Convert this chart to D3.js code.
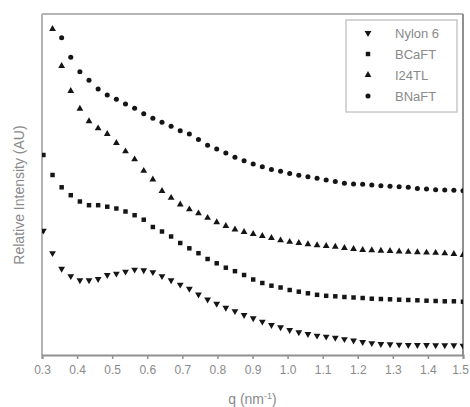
<!DOCTYPE html>
<html><head><meta charset="utf-8">
<script src="https://cdn.jsdelivr.net/npm/d3@7"></script>
<style>body{margin:0;background:#fff}svg{display:block}</style>
</head><body>
<svg id="chart" width="470" height="407"></svg>
<script>
// q values (nm^-1) of the measured points
const q = [0.304,0.330,0.356,0.382,0.408,0.434,0.460,0.486,0.512,0.538,0.564,0.590,0.616,0.642,0.668,0.694,0.720,0.746,0.772,0.798,0.824,0.850,0.876,0.902,0.928,0.954,0.980,1.006,1.032,1.058,1.084,1.110,1.136,1.162,1.188,1.214,1.240,1.266,1.292,1.318,1.344,1.370,1.396,1.422,1.448,1.474,1.500];

// relative intensity (arbitrary units, offset curves)
const nylon6 = [124.3,101.8,86.2,78.8,74.7,74.7,76,80,81.3,83.3,85.3,84.7,82.8,78.8,74.7,70.3,66.2,60.5,55.5,51.2,47.2,43.8,40,36.7,33.3,30,27.7,25,22.7,21,19.3,18.4,17.2,15.8,14.5,13,11.8,11,10.7,10.3,10,10,10,9.7,9.7,9.7,9.3];
const bcaft = [200,180,167.7,159.8,153.5,149.8,149.8,148.3,146.5,143.5,139.8,135.3,128,123.5,118.5,112,106.7,101.8,96,91.7,87.3,83.8,80,75.5,72,69.3,67.5,65,63.3,61.7,60.2,59.2,58.7,58,57.5,57,56.3,56,55.7,55.3,55,54.7,54.3,54,53.7,53.7,53.3];
const i24tl = [null,326,289,264,246.3,233.8,226.7,221,212,203.7,195.7,184.2,175.5,164,157.2,150.5,145.7,141.7,137.2,132.8,129,125.5,123,121,119,117,114.7,113.2,112,110.8,109.8,109,108.3,107,106,105,104.8,104.3,104,103.5,103.2,102.8,102.4,102.2,101.7,101,100];
const bnaft = [null,null,317.3,297.7,283.3,274.7,266,260,255.7,251,246.7,241.3,236.7,232.7,228.7,224.3,221,215.5,209.7,206,202,197.7,194.3,191,188.2,185.6,183.7,181.6,179.8,178.2,176.8,175,173.5,171.8,171,170.7,170,169.3,168.7,168.3,167.7,166.5,166,165.3,165,164.8,164.3];

const seriesNames = ["Nylon 6","BCaFT","I24TL","BNaFT"];
const xTickValues = [0.3,0.4,0.5,0.6,0.7,0.8,0.9,1.0,1.1,1.2,1.3,1.4,1.5];

const series = [
  {name: seriesNames[0], values: nylon6, symbol: d3.symbolTriangle, rot: 180},
  {name: seriesNames[1], values: bcaft, symbol: d3.symbolSquare, rot: 0},
  {name: seriesNames[2], values: i24tl, symbol: d3.symbolTriangle, rot: 0},
  {name: seriesNames[3], values: bnaft, symbol: d3.symbolCircle, rot: 0}
];

const svg = d3.select("#chart");
const L = 42, R = 463, T = 14, B = 355;
const x = d3.scaleLinear().domain([0.3, 1.5]).range([L, R]);
const y = d3.scaleLinear().domain([0, 341]).range([B, T]);

svg.append("defs").append("clipPath").attr("id","clip")
  .append("rect").attr("x", L).attr("y", T).attr("width", R - L).attr("height", B - T);

// frame
svg.append("line").attr("x1", L).attr("x2", R).attr("y1", T).attr("y2", T)
  .attr("stroke", "#b4b4b4").attr("stroke-width", 2);
svg.append("line").attr("x1", L).attr("x2", L).attr("y1", T).attr("y2", B)
  .attr("stroke", "#b4b4b4").attr("stroke-width", 2);
svg.append("line").attr("x1", R).attr("x2", R).attr("y1", T).attr("y2", B)
  .attr("stroke", "#909090").attr("stroke-width", 2);

// x axis
const xAxis = svg.append("g").attr("transform", `translate(0,${B})`)
  .call(d3.axisBottom(x).tickValues(xTickValues).tickFormat(d3.format(".1f")).tickSize(4).tickPadding(6));
xAxis.select(".domain").attr("stroke", "#909090").attr("stroke-width", 2);
xAxis.selectAll(".tick line").attr("stroke", "#909090").attr("stroke-width", 1.5);
xAxis.selectAll(".tick text").attr("fill", "#8a8a8a").style("font-family", "Liberation Sans, Arial, sans-serif").style("font-size", "12px");
xAxis.selectAll(".tick text").filter(d => d === 1.5).attr("dx", -3);

// axis titles
const xt = svg.append("text").attr("x", (L + R) / 2).attr("y", 404).attr("text-anchor", "middle")
  .attr("fill", "#8a8a8a").style("font-family", "Liberation Sans, Arial, sans-serif").style("font-size", "14px");
xt.append("tspan").text("q (nm");
xt.append("tspan").attr("dy", -5).style("font-size", "9px").text("-1");
xt.append("tspan").attr("dy", 5).text(")");

svg.append("text").attr("transform", "translate(24,195) rotate(-90)").attr("text-anchor", "middle")
  .attr("fill", "#8a8a8a").style("font-family", "Liberation Sans, Arial, sans-serif").style("font-size", "14px")
  .text("Relative Intensity (AU)");

// points
const plot = svg.append("g").attr("clip-path", "url(#clip)");
series.forEach(s => {
  const sym = d3.symbol().type(s.symbol).size(20);
  plot.append("g").selectAll("path")
    .data(q.map((qq, i) => ({q: qq, v: s.values[i]})).filter(d => d.v != null))
    .join("path")
    .attr("d", sym)
    .attr("transform", d => `translate(${x(d.q)},${y(d.v)}) rotate(${s.rot})`)
    .attr("fill", "#151515");
});

// legend
const lg = svg.append("g");
lg.append("rect").attr("x", 346).attr("y", 20).attr("width", 111).attr("height", 92)
  .attr("fill", "#fff").attr("stroke", "#c8c8c8").attr("stroke-width", 1.5);
series.forEach((s, i) => {
  const yy = 33 + i * 21;
  lg.append("path").attr("d", d3.symbol().type(s.symbol).size(20))
    .attr("transform", `translate(368,${yy}) rotate(${s.rot})`).attr("fill", "#151515");
  lg.append("text").attr("x", 395).attr("y", yy).attr("dy", "0.36em")
    .attr("fill", "#8a8a8a").style("font-family", "Liberation Sans, Arial, sans-serif").style("font-size", "13px")
    .text(s.name);
});
</script>
</body></html>
